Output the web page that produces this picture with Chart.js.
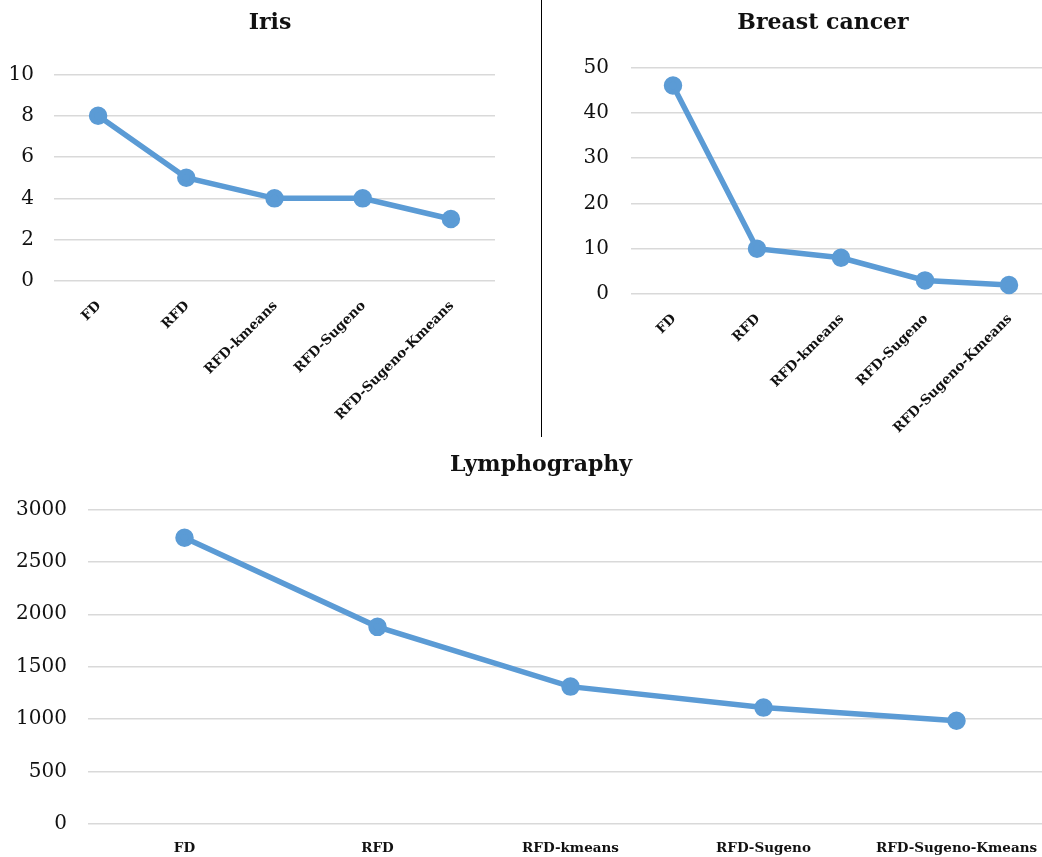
<!DOCTYPE html>
<html>
<head>
<meta charset="utf-8">
<script src="https://cdn.jsdelivr.net/npm/chart.js@4/dist/chart.umd.min.js"></script>
<style>
  html, body { margin: 0; padding: 0; background: #fff; overflow: hidden; width: 1042px; height: 857px; }
  .box { position: absolute; }
  .sep { position: absolute; left: 541px; top: 0; width: 1px; height: 437px; background: #000; }
</style>
</head>
<body>
<div class="box" style="left:0;top:0;width:540px;height:437px"><canvas id="iris"></canvas></div>
<div class="sep"></div>
<div class="box" style="left:541px;top:0;width:564px;height:437px"><canvas id="breast"></canvas></div>
<div class="box" style="left:0;top:440px;width:1082px;height:417px"><canvas id="lymph"></canvas></div>
<script>
// Methods compared in every panel
const categories = ['FD', 'RFD', 'RFD-kmeans', 'RFD-Sugeno', 'RFD-Sugeno-Kmeans'];

// Values per dataset
const irisValues = [8, 5, 4, 4, 3];
const breastValues = [46, 10, 8, 3, 2];
const lymphValues = [2730, 1880, 1310, 1110, 985];

// Value-axis ranges: [min, max, step]
const irisTicks = [0, 10, 2];
const breastTicks = [0, 50, 10];
const lymphTicks = [0, 3000, 500];

const LINE = '#5B9BD5';
const GRID = '#d9d9d9';
const INK = '#111';
const SERIF = "'DejaVu Serif', 'Liberation Serif', serif";

function panel(id, title, values, ticks, geo) {
  new Chart(document.getElementById(id), {
    type: 'line',
    data: {
      labels: categories,
      datasets: [{
        data: values,
        borderColor: LINE,
        backgroundColor: LINE,
        borderWidth: 5.5,
        pointRadius: 6.5,
        pointHoverRadius: 6.5,
        pointBackgroundColor: LINE,
        pointBorderColor: LINE,
        tension: 0,
        clip: false
      }]
    },
    options: {
      responsive: true,
      maintainAspectRatio: false,
      animation: false,
      layout: { padding: 0 },
      plugins: {
        legend: { display: false },
        tooltip: { enabled: false },
        title: {
          display: true,
          text: title,
          color: INK,
          font: { family: SERIF, size: geo.titleSize, weight: 'bold' },
          padding: { top: geo.titleTop, bottom: geo.titleBottom }
        }
      },
      scales: {
        x: {
          offset: true,
          grid: { display: false, drawTicks: false, offset: true },
          border: { display: false },
          ticks: {
            autoSkip: false,
            minRotation: geo.rot,
            maxRotation: geo.rot,
            padding: geo.xPad,
            labelOffset: geo.xShift,
            color: INK,
            font: { family: SERIF, size: geo.xSize, weight: 'bold' }
          },
          afterFit(s) { s.height = geo.xHeight; }
        },
        y: {
          min: ticks[0],
          max: ticks[1],
          grid: { color: GRID, lineWidth: 1.5, drawTicks: false },
          border: { display: false },
          ticks: {
            stepSize: ticks[2],
            padding: geo.yPad,
            color: INK,
            font: { family: SERIF, size: geo.ySize },
            callback: v => String(v)
          },
          afterFit(s) { s.width = geo.yWidth; }
        },
        pad: {
          type: 'linear',
          position: 'right',
          display: true,
          grid: { display: false, drawTicks: false },
          border: { display: false },
          ticks: { display: false },
          afterFit(s) { s.width = geo.rightGap; }
        }
      }
    }
  });
}

panel('iris', 'Iris', irisValues, irisTicks, {
  titleSize: 22, titleTop: 10, titleBottom: 38,
  rot: 45, xPad: 17, xShift: 1, xSize: 13.5, xHeight: 156,
  ySize: 20, yPad: 20, yWidth: 54, rightGap: 45
});

panel('breast', 'Breast cancer', breastValues, breastTicks, {
  titleSize: 22, titleTop: 10, titleBottom: 31,
  rot: 45, xPad: 17, xShift: 1, xSize: 13.5, xHeight: 143,
  ySize: 20, yPad: 22, yWidth: 90, rightGap: 54
});

panel('lymph', 'Lymphography', lymphValues, lymphTicks, {
  titleSize: 22, titleTop: 12, titleBottom: 31,
  rot: 0, xPad: 16, xShift: 0, xSize: 13.5, xHeight: 32,
  ySize: 20, yPad: 21, yWidth: 88, rightGap: 29
});
</script>
</body>
</html>
